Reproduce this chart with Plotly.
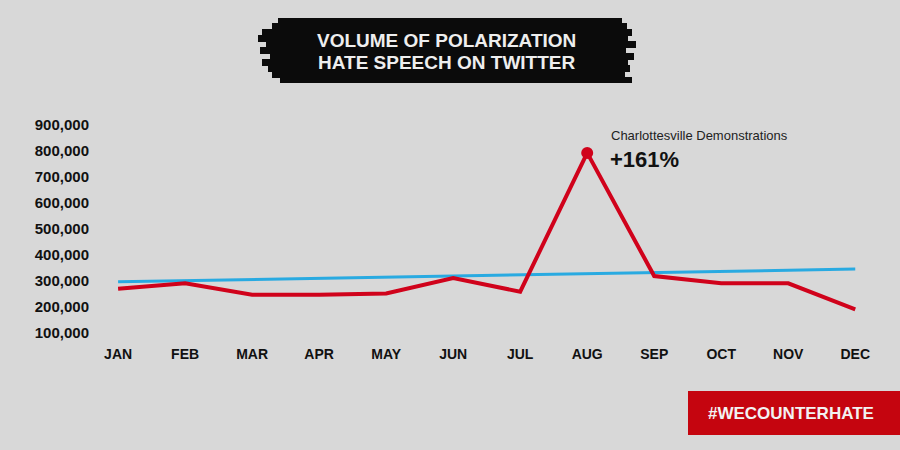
import plotly.graph_objects as go

months = ["JAN", "FEB", "MAR", "APR", "MAY", "JUN", "JUL", "AUG", "SEP", "OCT", "NOV", "DEC"]
volume = [270000, 291000, 247000, 247000, 252000, 311000, 259000, 793000, 319000, 291000, 291000, 191000]
trend_months = ["JAN", "DEC"]
trend = [297000, 346000]
y_ticks = [100000, 200000, 300000, 400000, 500000, 600000, 700000, 800000, 900000]

RED = "#d0021b"
BLUE = "#29aae1"
BG = "#d8d8d8"
FONT = "Liberation Sans"


def px_x(x):
    # page pixel -> paper coords (plot area spans x 100..870)
    return (x - 100) / 770


def px_y(y):
    # page pixel -> paper coords (plot area spans y 110..340)
    return (340 - y) / 230


fig = go.Figure()

fig.add_trace(go.Scatter(x=trend_months, y=trend, mode="lines",
                         line=dict(color=BLUE, width=3), hoverinfo="skip"))
fig.add_trace(go.Scatter(x=months, y=volume, mode="lines",
                         line=dict(color=RED, width=4)))
# peak marker
peak = volume.index(max(volume))
fig.add_trace(go.Scatter(x=[months[peak]], y=[volume[peak]], mode="markers",
                         marker=dict(color=RED, size=12)))

fig.add_annotation(x=months[peak], y=volume[peak], xref="x", yref="y",
                   text="Charlottesville Demonstrations", showarrow=False,
                   xanchor="left", yanchor="middle", xshift=22, yshift=17,
                   font=dict(family=FONT, size=13, color="#222"))
fig.add_annotation(x=months[peak], y=volume[peak], xref="x", yref="y",
                   text="<b>+161%</b>", showarrow=False,
                   xanchor="left", yanchor="middle", xshift=21, yshift=-7,
                   font=dict(family=FONT, size=22, color="#111"))

# brush-stroke title band, built from ragged strips
strokes = [(18, 24, 278, 622), (23, 30, 272, 627), (29, 36, 262, 632),
           (35, 42, 258, 628), (41, 48, 266, 636), (47, 54, 260, 626),
           (53, 60, 270, 634), (59, 66, 262, 628), (65, 72, 268, 630),
           (71, 78, 272, 625), (77, 83, 280, 632)]
for y0, y1, x0, x1 in strokes:
    fig.add_shape(type="rect", xref="paper", yref="paper", layer="above",
                  x0=px_x(x0), x1=px_x(x1), y0=px_y(y1), y1=px_y(y0),
                  fillcolor="#0b0b0b", line=dict(width=0))
for text, yc in [("VOLUME OF POLARIZATION", 41), ("HATE SPEECH ON TWITTER", 62)]:
    fig.add_annotation(xref="paper", yref="paper", x=px_x(446), y=px_y(yc),
                       text="<b>" + text + "</b>", showarrow=False,
                       xanchor="center", yanchor="middle",
                       font=dict(family=FONT, size=19, color="#eeeeee"))

# hashtag badge
fig.add_shape(type="rect", xref="paper", yref="paper", layer="above",
              x0=px_x(688), x1=px_x(900), y0=px_y(435), y1=px_y(391),
              fillcolor="#c5050f", line=dict(width=0))
fig.add_annotation(xref="paper", yref="paper", x=px_x(791), y=px_y(413),
                   text="<b>#WECOUNTERHATE</b>", showarrow=False,
                   xanchor="center", yanchor="middle",
                   font=dict(family=FONT, size=17, color="#f2f2f2"))

fig.update_layout(
    width=900, height=450,
    margin=dict(l=100, r=30, t=110, b=110),
    paper_bgcolor=BG, plot_bgcolor=BG,
    showlegend=False,
    font=dict(family=FONT, color="#111"),
    xaxis=dict(type="category", categoryorder="array", categoryarray=months,
               range=[-0.27, 11.22], showgrid=False, zeroline=False, showline=False,
               ticks="", tickfont=dict(size=14, family=FONT, weight="bold"),
               ticklabelstandoff=4),
    yaxis=dict(range=[73000, 958000], tickvals=y_ticks, tickformat=",d",
               showgrid=False, zeroline=False, showline=False, ticks="",
               tickfont=dict(size=15, family=FONT, weight="bold"),
               ticklabelstandoff=10),
)

fig.write_html("out.html", config={"displayModeBar": False},
               post_script="document.body.style.margin='0';document.body.style.overflow='hidden';")
